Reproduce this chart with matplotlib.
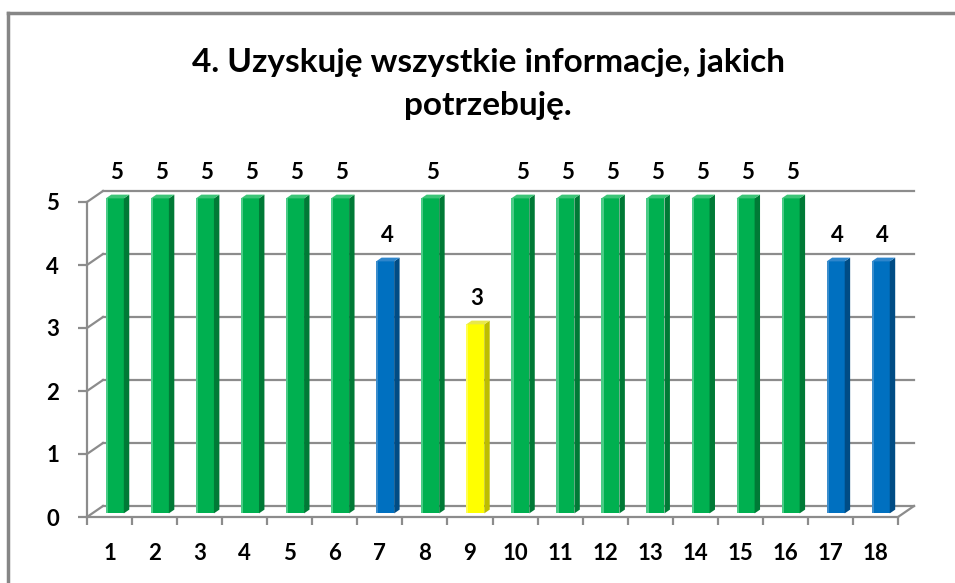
import matplotlib
matplotlib.use("Agg")
import matplotlib.pyplot as plt
from matplotlib.patches import Polygon
from matplotlib.lines import Line2D

plt.rcParams['font.family'] = ['Lato', 'DejaVu Sans']
plt.rcParams['font.weight'] = 'bold'

categories = [str(i) for i in range(1, 19)]
values = [5, 5, 5, 5, 5, 5, 4, 5, 3, 5, 5, 5, 5, 5, 5, 5, 4, 4]
title = "4. Uzyskuję wszystkie informacje, jakich\npotrzebuję."
yticks = [0, 1, 2, 3, 4, 5]

PAL = {
    5: ("#00B050", "#007A36", "#3CC477", "#5ED394"),
    4: ("#0070C0", "#004C85", "#2E86CC", "#4A95D0"),
    3: ("#FFFF00", "#BDBD00", "#E8E84A", "#FFFF66"),
}

W, H = 955, 583
fig = plt.figure(figsize=(W / 100, H / 100), dpi=100)
fig.patch.set_facecolor("white")

x0, x1, y0, y1 = 87, 898, 517, 202
ax = fig.add_axes([x0 / W, (H - y0) / H, (x1 - x0) / W, (y0 - y1) / H])
ax.set_xlim(0.5, 18.5)
ax.set_ylim(0, 5)
ax.set_facecolor("none")

px_x = (x1 - x0) / 18.0
px_y = (y0 - y1) / 5.0
DX = 16 / px_x
DY = 11 / px_y
f0, f1 = 0.33, 0.67
bw = 0.40
gcol = "#8C8C8C"

# back wall gridlines + left wall diagonals
for v in yticks:
    ax.add_line(Line2D([0.5 + DX, 18.5 + DX], [v + DY, v + DY], color=gcol, lw=1.6,
                       clip_on=False, zorder=1))
    ax.add_line(Line2D([0.5, 0.5 + DX], [v, v + DY], color=gcol, lw=1.6,
                       clip_on=False, zorder=1))
ax.add_line(Line2D([18.5, 18.5 + DX], [0, DY], color=gcol, lw=1.6, clip_on=False, zorder=1))

xs = list(range(1, 19))
for i, v in zip(xs, values):
    front, side, top, light = PAL[v]
    left = i - bw / 2 + f0 * DX
    ax.bar(left, v, width=bw, bottom=f0 * DY, align='edge', color=front,
           edgecolor='none', zorder=3, clip_on=False)
    ax.bar(left, v, width=0.05, bottom=f0 * DY, align='edge', color=light,
           edgecolor='none', zorder=3, clip_on=False, alpha=0.8)
    r = i + bw / 2
    ax.add_patch(Polygon([(r + f0 * DX, f0 * DY), (r + f1 * DX, f1 * DY),
                          (r + f1 * DX, v + f1 * DY), (r + f0 * DX, v + f0 * DY)],
                         closed=True, facecolor=side, edgecolor='none', zorder=3,
                         clip_on=False))
    l = i - bw / 2
    ax.add_patch(Polygon([(l + f0 * DX, v + f0 * DY), (r + f0 * DX, v + f0 * DY),
                          (r + f1 * DX, v + f1 * DY), (l + f1 * DX, v + f1 * DY)],
                         closed=True, facecolor=top, edgecolor='none', zorder=3,
                         clip_on=False))
    ax.annotate(str(v), xy=(i + 0.5 * (f0 + f1) * DX - 0.02, v + f1 * DY),
                xytext=(0, 11.5), textcoords='offset points', ha='center',
                va='baseline', fontsize=16, fontweight='bold', color='black',
                annotation_clip=False, zorder=5)

for s in ['top', 'right']:
    ax.spines[s].set_visible(False)
for s in ['left', 'bottom']:
    ax.spines[s].set_color(gcol)
    ax.spines[s].set_linewidth(1.6)
    ax.spines[s].set_zorder(2)

ax.set_yticks(yticks)
ax.set_yticklabels([str(t) for t in yticks], fontsize=16, fontweight='bold')
ax.tick_params(axis='y', length=6.5, width=1.6, color=gcol, pad=13.5)
ax.set_xticks(xs)
ax.set_xticklabels(categories, fontsize=16, fontweight='bold')
ax.set_xticks([x - 0.5 for x in xs] + [18.5], minor=True)
ax.tick_params(axis='x', which='major', length=0, pad=18.5)
ax.tick_params(axis='x', which='minor', length=6, width=1.6, color=gcol)

title_lines = title.split("\n")
title_baselines = [72, 115]
for line, yb in zip(title_lines, title_baselines):
    fig.text(488 / W, 1 - yb / H, line, ha='center', va='baseline', fontsize=24,
             fontweight='bold')

# chart border (left and top visible)
bc = "#868686"
fig.add_artist(Line2D([8 / W, 8 / W], [0, 1 - 13 / H], transform=fig.transFigure,
                      color=bc, lw=2.5))
fig.add_artist(Line2D([8 / W, 1.0], [1 - 13 / H, 1 - 13 / H], transform=fig.transFigure,
                      color=bc, lw=2.5))

fig.savefig("out.png", dpi=100, facecolor="white")
